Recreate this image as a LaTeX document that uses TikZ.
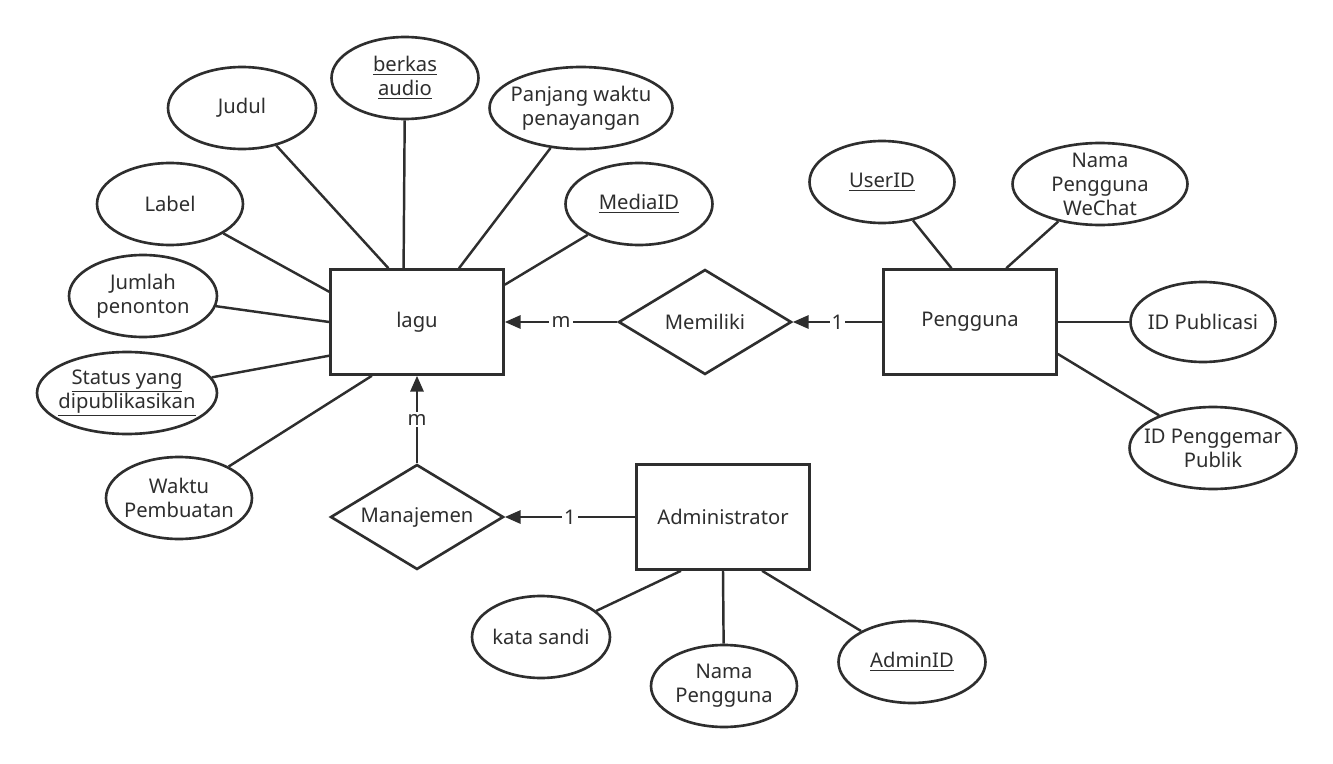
\documentclass[tikz,border=0pt]{standalone}
\usepackage{fontspec}
\setmainfont{Noto Sans}
\usetikzlibrary{arrows.meta, positioning, shapes.geometric}
\definecolor{erline}{HTML}{2E2E2E}
\newcommand{\erfont}{\fontsize{11.5}{13.6}\selectfont}

\begin{document}
\begin{tikzpicture}[
  x=0.02cm, y=-0.02cm,
  entity/.style={rectangle, draw=erline, line width=1.5pt, fill=white,
                 minimum width=3.46cm, minimum height=2.1cm, font=\erfont, text=erline},
  attr/.style={ellipse, draw=erline, line width=1.5pt, fill=white, inner sep=-6pt,
               minimum width=#1, minimum height=1.64cm, align=center, font=\erfont, text=erline},
  attr/.default=2.94cm,
  rel/.style={diamond, aspect=1.66, draw=erline, line width=1.5pt, fill=white, inner sep=0pt,
              minimum width=3.46cm, minimum height=2.1cm, font=\erfont, text=erline},
  link/.style={draw=erline, line width=1.4pt},
  card/.style={link, -{Triangle[length=9pt, width=7.5pt]}},
  cardlabel/.style={fill=white, inner sep=1.2pt, font=\erfont, text=erline}
]
\useasboundingbox (0,0) rectangle (1333,764);

% === Entities and relationships ===
\node[entity] (lagu)      at (417, 322) {lagu};
\node[rel]    (memiliki)  at (705, 322) {Memiliki};
\node[entity] (pengguna)  at (970, 322) {Pengguna};
\node[rel]    (manajemen) at (417, 517) {Manajemen};
\node[entity] (admin)     at (723, 517) {Administrator};

% === Attributes of lagu ===
\node[attr=2.96cm] (judul)   at (242, 108) {Judul};
\node[attr]        (berkas)  at (405,  78) {\underline{berkas}\\\underline{audio}};
\node[attr=3.66cm] (panjang) at (581, 108) {Panjang waktu\\penayangan};
\node[attr]        (media)   at (639, 204) {\underline{MediaID}};
\node[attr=2.92cm] (label)   at (170, 204) {Label};
\node[attr=2.96cm] (jumlah)  at (143, 296) {Jumlah\\penonton};
\node[attr=3.6cm]  (status)  at (127, 393) {\underline{Status yang}\\\underline{dipublikasikan}};
\node[attr=2.92cm] (waktu)   at (179, 498) {Waktu\\Pembuatan};

% === Attributes of Pengguna ===
\node[attr=2.9cm]  (userid)  at (882, 182) {\underline{UserID}};
\node[attr=3.5cm]  (wechat)  at (1100, 184) {Nama\\Pengguna\\WeChat};
\node[attr=2.9cm, minimum height=1.6cm] (idpub) at (1203, 322) {ID Publicasi};
\node[attr=3.34cm] (idfan)   at (1213, 448) {ID Penggemar\\Publik};

% === Attributes of Administrator ===
\node[attr=2.76cm] (sandi)   at (541, 637) {kata sandi};
\node[attr=2.92cm] (namaadm) at (724, 686) {Nama\\Pengguna};
\node[attr]        (adminid) at (912, 662) {\underline{AdminID}};

% === Attribute links ===
\draw[link] (judul)   -- (lagu.118);
\draw[link] (berkas)  -- (lagu.104);
\draw[link] (panjang) -- (lagu.52);
\draw[link] (media)   -- (lagu.23);
\draw[link] (label)   -- (lagu.161);
\draw[link] (jumlah)  -- (lagu.180);
\draw[link] (status)  -- (lagu.201);
\draw[link] (waktu)   -- (lagu.230);

\draw[link] (userid)  -- (pengguna.109);
\draw[link] (wechat)  -- (pengguna.56);
\draw[link] (idpub)   -- (pengguna.0);
\draw[link] (idfan)   -- (pengguna.340);

\draw[link] (sandi)   -- (admin.232);
\draw[link] (namaadm) -- (admin.270);
\draw[link] (adminid) -- (admin.306);

% === Cardinalities ===
\draw[card] (memiliki)  -- node[cardlabel] {m} (lagu);
\draw[card] (pengguna)  -- node[cardlabel] {1} (memiliki);
\draw[card] (manajemen) -- node[cardlabel] {m} (lagu);
\draw[card] (admin)     -- node[cardlabel] {1} (manajemen);

\end{tikzpicture}
\end{document}
